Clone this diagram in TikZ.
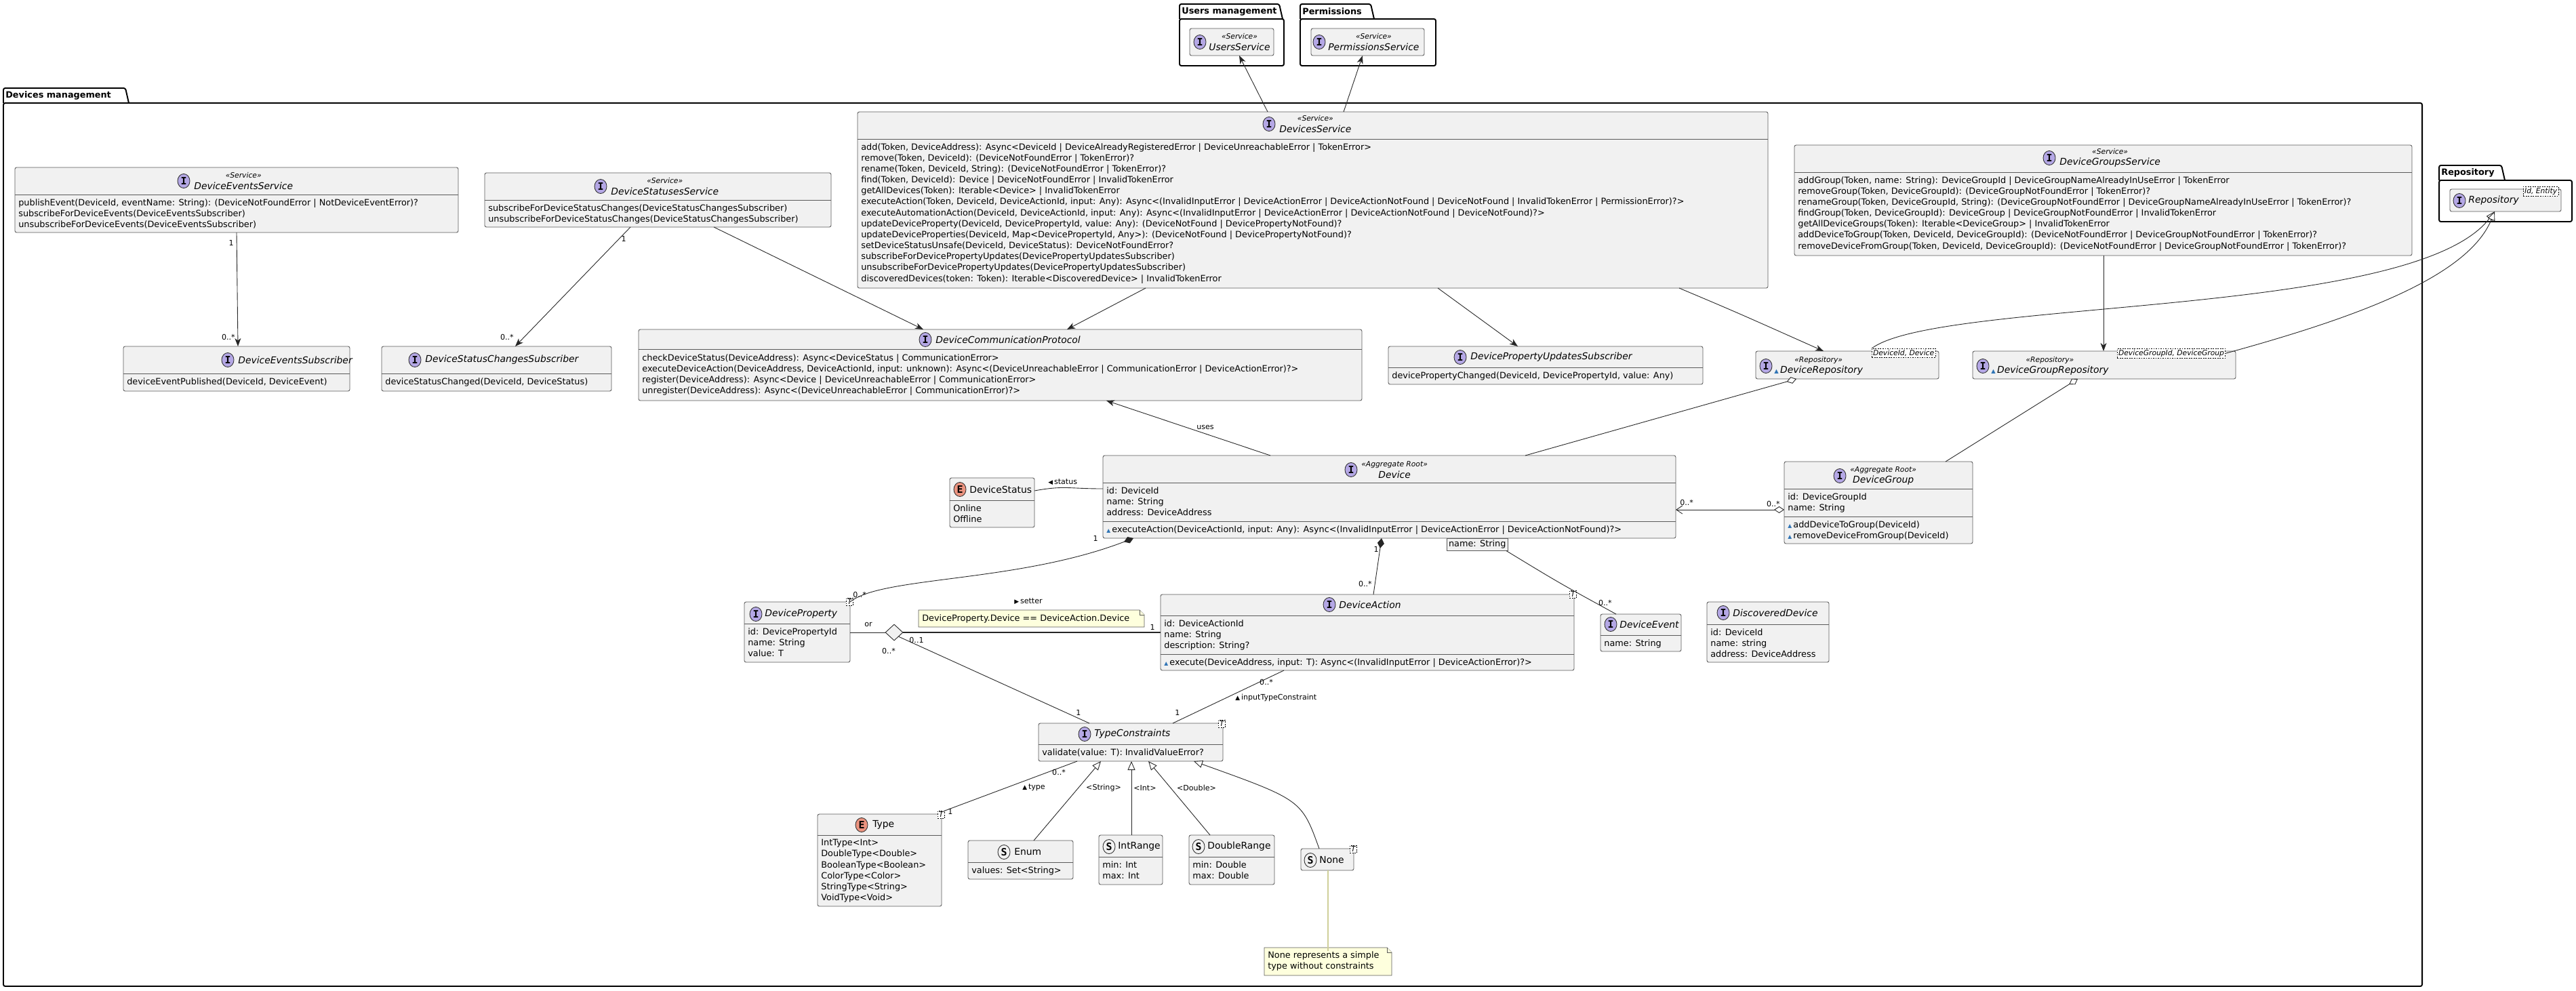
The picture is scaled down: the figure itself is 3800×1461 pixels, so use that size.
\documentclass[tikz,border=0pt]{standalone}
\usepackage{fontspec}
\setmainfont{DejaVu Sans}
\newfontfamily\monof{DejaVu Sans Mono}
\usetikzlibrary{arrows.meta,shapes.geometric}
\definecolor{boxfill}{HTML}{F1F1F1}
\definecolor{boxline}{HTML}{5A5A5A}
\definecolor{icoI}{HTML}{B4A7E5}
\definecolor{icoE}{HTML}{EB937F}
\definecolor{notefill}{HTML}{FEFFDD}
\definecolor{noteln}{HTML}{CFCF9A}
\definecolor{visblue}{HTML}{2F74B5}
\newcommand\fs{\fontsize{7.3}{9.2}\selectfont}
\newcommand\fsl{\fontsize{6.3}{7.5}\selectfont}
\newcommand\fst{\fontsize{6.1}{7}\selectfont\itshape}
\newcommand\fsn{\fontsize{7.9}{9.5}\selectfont}
\newcommand\vis{{\color{visblue}\scalebox{0.6}{▲}}\,}
\newcount\tcnt
\newcommand\stepid{\global\advance\tcnt by 1\relax}
\tikzset{
  x=0.02cm,y=-0.02cm,
  cls/.style={draw=boxline,fill=boxfill,line width=0.5pt,rounded corners=1.5pt,anchor=north west,inner sep=0,outer sep=0},
  clsl/.style={draw=boxline,line width=0.5pt},
  txt/.style={anchor=north west,inner sep=0,align=left,font=\fs},
  ttl/.style={anchor=west,inner sep=0,align=center,font=\fsn},
  lbl/.style={inner sep=0,font=\fsl},
  tpl/.style={draw=black,dashed,dash pattern=on 1pt off 1pt,fill=white,line width=0.4pt,inner sep=1pt,font=\fst,anchor=north west},
  pkg/.style={draw=black,line width=1.1pt,rounded corners=1.5pt},
  ln/.style={draw=black!85,line width=0.5pt},
  arr/.style={ln,-{Stealth[length=0.24cm,width=0.18cm,inset=0.07cm]}},
  gen/.style={ln,-{Triangle[open,length=0.26cm,width=0.22cm,fill=white]}},
  note/.style={draw=boxline,fill=notefill,line width=0.5pt},
}
\newcommand\ucls[5]{\node[cls,minimum width={(#4-#2)*0.02cm},minimum height={(#5-#3)*0.02cm}] (#1) at (#2,#3) {};}
\newcommand\usep[3]{\draw[clsl] (#1,#3) -- (#2,#3);}
\newcommand\uico[4]{\draw[line width=0.5pt,draw=black!80,fill=#4] (#1,#2) ellipse [x radius=0.18cm,y radius=0.21cm];
  \stepid\node[inner sep=0,font=\monof\bfseries\fontsize{8.5}{9}\selectfont] (t\the\tcnt) at (#1,#2) {#3};}
\newcommand\utxt[3]{\stepid\node[txt] (t\the\tcnt) at (#1,#2) {#3};}
\newcommand\uttl[3]{\stepid\node[ttl] (t\the\tcnt) at (#1,#2) {#3};}
\newcommand\ust[1]{{\fst «#1»}\\}
\begin{document}
\begin{tikzpicture}
\useasboundingbox (0,0) rectangle (3800,1461);
\fill[white] (0,0) rectangle (3800,1461);

% ---------- packages ----------
\draw[pkg] (5,152) -- (5,130) -- (185,130) -- (190,152);
\draw[pkg] (5,152) rectangle (3573,1455);
\node[anchor=west,inner sep=0,font=\fs\bfseries] (pkgdm) at (8,141) {Devices management};
\draw[pkg] (1740,28) -- (1740,6) -- (1887,6) -- (1892,28);
\draw[pkg] (1740,28) rectangle (1894,97);
\node[anchor=west,inner sep=0,font=\fs\bfseries] (pkgum) at (1743,17) {Users management};
\draw[pkg] (1918,28) -- (1918,6) -- (2022,6) -- (2027,28);
\draw[pkg] (1918,28) rectangle (2118,97);
\node[anchor=west,inner sep=0,font=\fs\bfseries] (pkgpm) at (1921,17) {Permissions};
\draw[pkg] (3598,266) -- (3598,244) -- (3690,244) -- (3695,266);
\draw[pkg] (3598,266) rectangle (3794,327);
\node[anchor=west,inner sep=0,font=\fs\bfseries] (pkgrp) at (3601,255) {Repository};

% ---------- top services ----------
\ucls{usersvc}{1755}{42}{1879}{82}
\uico{1770}{62}{I}{icoI}
\uttl{1783}{62}{\ust{Service}\itshape UsersService}
\ucls{permsvc}{1934}{42}{2101}{82}
\uico{1946}{62}{I}{icoI}
\uttl{1959}{62}{\ust{Service}\itshape PermissionsService}

\ucls{repo}{3614}{279}{3778}{312}
\uico{3628}{296}{I}{icoI}
\uttl{3641}{296}{\itshape Repository}
\node[tpl] (tplrepo) at (3722,275) {Id, Entity};

% ---------- services ----------
\ucls{evsvc}{22}{247}{676}{343}\usep{22}{676}{287}
\uico{271}{267}{I}{icoI}
\uttl{286}{267}{\ust{Service}\itshape DeviceEventsService}
\utxt{27}{293}{publishEvent(DeviceId, eventName: String): (DeviceNotFoundError | NotDeviceEventError)?\\subscribeForDeviceEvents(DeviceEventsSubscriber)\\unsubscribeForDeviceEvents(DeviceEventsSubscriber)}

\ucls{stsvc}{715}{255}{1226}{335}\usep{715}{1226}{295}
\uico{886}{275}{I}{icoI}
\uttl{901}{275}{\ust{Service}\itshape DeviceStatusesService}
\utxt{720}{301}{subscribeForDeviceStatusChanges(DeviceStatusChangesSubscriber)\\unsubscribeForDeviceStatusChanges(DeviceStatusChangesSubscriber)}

\ucls{devsvc}{1265}{165}{2608}{425}\usep{1265}{2608}{205}
\uico{1872}{183}{I}{icoI}
\uttl{1887}{183}{\ust{Service}\itshape DevicesService}
\utxt{1270}{211}{add(Token, DeviceAddress): Async<DeviceId | DeviceAlreadyRegisteredError | DeviceUnreachableError | TokenError>\\
remove(Token, DeviceId): (DeviceNotFoundError | TokenError)?\\
rename(Token, DeviceId, String): (DeviceNotFoundError | TokenError)?\\
find(Token, DeviceId): Device | DeviceNotFoundError | InvalidTokenError\\
getAllDevices(Token): Iterable<Device> | InvalidTokenError\\
executeAction(Token, DeviceId, DeviceActionId, input: Any): Async<(InvalidInputError | DeviceActionError | DeviceActionNotFound | DeviceNotFound | InvalidTokenError | PermissionError)?>\\
executeAutomationAction(DeviceId, DeviceActionId, input: Any): Async<(InvalidInputError | DeviceActionError | DeviceActionNotFound | DeviceNotFound)?>\\
updateDeviceProperty(DeviceId, DevicePropertyId, value: Any): (DeviceNotFound | DevicePropertyNotFound)?\\
updateDeviceProperties(DeviceId, Map<DevicePropertyId, Any>): (DeviceNotFound | DevicePropertyNotFound)?\\
setDeviceStatusUnsafe(DeviceId, DeviceStatus): DeviceNotFoundError?\\
subscribeForDevicePropertyUpdates(DevicePropertyUpdatesSubscriber)\\
unsubscribeForDevicePropertyUpdates(DevicePropertyUpdatesSubscriber)\\
discoveredDevices(token: Token): Iterable<DiscoveredDevice> | InvalidTokenError}

\ucls{grpsvc}{2647}{214}{3558}{377}\usep{2647}{3558}{254}
\uico{3023}{233}{I}{icoI}
\uttl{3038}{233}{\ust{Service}\itshape DeviceGroupsService}
\utxt{2652}{260}{addGroup(Token, name: String): DeviceGroupId | DeviceGroupNameAlreadyInUseError | TokenError\\
removeGroup(Token, DeviceGroupId): (DeviceGroupNotFoundError | TokenError)?\\
renameGroup(Token, DeviceGroupId, String): (DeviceGroupNotFoundError | DeviceGroupNameAlreadyInUseError | TokenError)?\\
findGroup(Token, DeviceGroupId): DeviceGroup | DeviceGroupNotFoundError | InvalidTokenError\\
getAllDeviceGroups(Token): Iterable<DeviceGroup> | InvalidTokenError\\
addDeviceToGroup(Token, DeviceId, DeviceGroupId): (DeviceNotFoundError | DeviceGroupNotFoundError | TokenError)?\\
removeDeviceFromGroup(Token, DeviceId, DeviceGroupId): (DeviceNotFoundError | DeviceGroupNotFoundError | TokenError)?}

% ---------- second row ----------
\ucls{evsub}{182}{511}{516}{577}\usep{182}{516}{551}
\uico{336}{531}{I}{icoI}
\uttl{351}{531}{\itshape DeviceEventsSubscriber}
\utxt{187}{557}{deviceEventPublished(DeviceId, DeviceEvent)}

\ucls{stsub}{563}{511}{902}{577}\usep{563}{902}{551}
\uico{612}{531}{I}{icoI}
\uttl{627}{531}{\itshape DeviceStatusChangesSubscriber}
\utxt{568}{557}{deviceStatusChanged(DeviceId, DeviceStatus)}

\ucls{dcp}{942}{486}{2009}{591}\usep{942}{2009}{515}
\uico{1365}{501}{I}{icoI}
\uttl{1380}{501}{\itshape DeviceCommunicationProtocol}
\utxt{947}{522}{checkDeviceStatus(DeviceAddress): Async<DeviceStatus | CommunicationError>\\
executeDeviceAction(DeviceAddress, DeviceActionId, input: unknown): Async<(DeviceUnreachableError | CommunicationError | DeviceActionError)?>\\
register(DeviceAddress): Async<Device | DeviceUnreachableError | CommunicationError>\\
unregister(DeviceAddress): Async<(DeviceUnreachableError | CommunicationError)?>}

\ucls{dpus}{2048}{511}{2512}{567}\usep{2048}{2512}{542}
\uico{2154}{527}{I}{icoI}
\uttl{2169}{527}{\itshape DevicePropertyUpdatesSubscriber}
\utxt{2053}{548}{devicePropertyChanged(DeviceId, DevicePropertyId, value: Any)}

\ucls{drepo}{2590}{518}{2860}{559}
\uico{2605}{540}{I}{icoI}
\uttl{2617}{540}{\ust{Repository}\vis\itshape DeviceRepository}
\node[tpl] (tpldr) at (2761,514) {DeviceId, Device};

\ucls{dgrepo}{2910}{518}{3298}{559}
\uico{2925}{540}{I}{icoI}
\uttl{2937}{540}{\ust{Repository}\vis\itshape DeviceGroupRepository}
\node[tpl] (tpldg) at (3123,514) {DeviceGroupId, DeviceGroup};

% ---------- Device row ----------
\ucls{device}{1627}{672}{2472}{794}\usep{1627}{2472}{712}\usep{1627}{2472}{769}
\uico{1993}{693}{I}{icoI}
\uttl{2008}{693}{\ust{Aggregate Root}\itshape Device}
\utxt{1632}{718}{id: DeviceId\\name: String\\address: DeviceAddress}
\utxt{1632}{775}{\vis executeAction(DeviceActionId, input: Any): Async<(InvalidInputError | DeviceActionError | DeviceActionNotFound)?>}
\node[draw=boxline,fill=boxfill,line width=0.5pt,inner sep=1.5pt,font=\fs,anchor=north west] (ntag) at (2134,794) {name: String};

\ucls{dstatus}{1401}{705}{1526}{778}\usep{1401}{1526}{738}
\uico{1416}{722}{E}{icoE}
\uttl{1430}{722}{DeviceStatus}
\utxt{1406}{744}{Online\\Offline}

\ucls{dgroup}{2632}{681}{2910}{802}\usep{2632}{2910}{721}\usep{2632}{2910}{762}
\uico{2714}{702}{I}{icoI}
\uttl{2729}{702}{\ust{Aggregate Root}\itshape DeviceGroup}
\utxt{2637}{727}{id: DeviceGroupId\\name: String}
\utxt{2637}{768}{\vis addDeviceToGroup(DeviceId)\\\vis removeDeviceFromGroup(DeviceId)}

\ucls{ddev}{2518}{888}{2698}{977}\usep{2518}{2698}{921}
\uico{2542}{904}{I}{icoI}
\uttl{2556}{904}{\itshape DiscoveredDevice}
\utxt{2523}{927}{id: DeviceId\\name: string\\address: DeviceAddress}

\ucls{dprop}{1098}{888}{1254}{977}\usep{1098}{1254}{920}
\uico{1115}{906}{I}{icoI}
\uttl{1128}{906}{\itshape DeviceProperty}
\utxt{1103}{926}{id: DevicePropertyId\\name: String\\value: T}
\node[tpl] (tplp) at (1248,882) {T};

\ucls{daction}{1712}{877}{2322}{989}\usep{1712}{2322}{908}\usep{1712}{2322}{965}
\uico{1961}{892}{I}{icoI}
\uttl{1975}{892}{\itshape DeviceAction}
\utxt{1717}{914}{id: DeviceActionId\\name: String\\description: String?}
\utxt{1717}{971}{\vis execute(DeviceAddress, input: T): Async<(InvalidInputError | DeviceActionError)?>}
\node[tpl] (tpla) at (2315,871) {T};

\ucls{devent}{2361}{906}{2480}{961}\usep{2361}{2480}{937}
\uico{2376}{921}{I}{icoI}
\uttl{2389}{921}{\itshape DeviceEvent}
\utxt{2366}{943}{name: String}

\draw[note] (1355,900) -- (1681,900) -- (1688,907) -- (1688,925) -- (1355,925) -- cycle;
\draw[note] (1681,900) -- (1681,907) -- (1688,907);
\node[anchor=west,inner sep=0,font=\fs] (note1) at (1360,913) {DeviceProperty.Device == DeviceAction.Device};

\node[diamond,draw=black!85,fill=boxfill,line width=0.5pt,minimum width=0.52cm,minimum height=0.48cm,inner sep=0] (orD) at (1319,933) {};

% ---------- type constraints ----------
\ucls{tc}{1532}{1067}{1804}{1123}\usep{1532}{1804}{1098}
\uico{1600}{1083}{I}{icoI}
\uttl{1614}{1083}{\itshape TypeConstraints}
\utxt{1537}{1104}{validate(value: T): InvalidValueError?}
\node[tpl] (tpltc) at (1797,1062) {T};

\ucls{typ}{1206}{1201}{1389}{1337}\usep{1206}{1389}{1232}
\uico{1271}{1217}{E}{icoE}
\uttl{1287}{1217}{Type}
\utxt{1211}{1238}{IntType<Int>\\DoubleType<Double>\\BooleanType<Boolean>\\ColorType<Color>\\StringType<String>\\VoidType<Void>}
\node[tpl] (tplt) at (1383,1196) {T};

\ucls{enm}{1428}{1240}{1583}{1297}\usep{1428}{1583}{1272}
\uico{1481}{1257}{S}{boxfill}
\uttl{1496}{1257}{Enum}
\utxt{1433}{1278}{values: Set<String>}

\ucls{irange}{1621}{1232}{1715}{1305}\usep{1621}{1715}{1264}
\uico{1636}{1249}{S}{boxfill}
\uttl{1649}{1249}{IntRange}
\utxt{1626}{1270}{min: Int\\max: Int}

\ucls{drange}{1754}{1232}{1880}{1305}\usep{1754}{1880}{1264}
\uico{1768}{1249}{S}{boxfill}
\uttl{1781}{1249}{DoubleRange}
\utxt{1759}{1270}{min: Double\\max: Double}

\ucls{nonec}{1919}{1252}{1997}{1284}
\uico{1933}{1269}{S}{boxfill}
\uttl{1946}{1269}{None}
\node[tpl] (tpln) at (1991,1247) {T};

\draw[note] (1865,1398) -- (2046,1398) -- (2053,1405) -- (2053,1439) -- (1865,1439) -- cycle;
\draw[note] (2046,1398) -- (2046,1405) -- (2053,1405);
\node[anchor=north west,inner sep=0,align=left,font=\fs] (note2) at (1870,1403) {None represents a simple\\type without constraints};

% ---------- connectors ----------
\draw[arr] (devsvc.north -| 1870,0) -- (usersvc.south -| 1828,0);
\draw[arr] (devsvc.north -| 1982,0) -- (permsvc.south -| 2010,0);

\draw[arr] (evsvc.south -| 349,0) -- (evsub.north -| 351,0);
\node[lbl,anchor=east] (m1) at (345,358) {1};
\node[lbl,anchor=east] (m2) at (347,497) {0..*};
\draw[arr] (stsvc.south -| 930,0) -- (stsub.north -| 760,0);
\node[lbl,anchor=east] (m3) at (924,352) {1};
\node[lbl,anchor=east] (m4) at (758,497) {0..*};
\draw[arr] (stsvc.south -| 1053,0) -- (dcp.north -| 1362,0);
\draw[arr] (devsvc.south -| 1690,0) -- (dcp.north -| 1574,0);
\draw[arr] (devsvc.south -| 2121,0) -- (dpus.north -| 2239,0);
\draw[arr] (devsvc.south -| 2477,0) .. controls (2560,460) .. (drepo.north -| 2690,0);
\draw[arr] (grpsvc.south -| 3103,0) -- (dgrepo.north -| 3103,0);

\draw[gen] (tpldr.north west) .. controls (2860,440) and (3560,470) .. (repo.south -| 3680,0);
\draw[gen] (tpldg.east) .. controls (3470,470) and (3640,410) .. (repo.south -| 3680,0);

\draw[ln,{Diamond[open,length=0.3cm,width=0.2cm,fill=white]}-] (drepo.south -| 2650,0) -- (device.north -| 2250,0);
\draw[ln,{Diamond[open,length=0.3cm,width=0.2cm,fill=white]}-] (dgrepo.south -| 3065,0) -- (dgroup.north -| 2870,0);

\draw[arr] (device.north -| 1874,0) -- (dcp.south -| 1632,0);
\node[lbl] (uses) at (1778,630) {uses};
\draw[ln] (device.west |- 0,721) .. controls (1575,721) and (1570,716) .. (dstatus.east |- 0,724);
\node[lbl,anchor=west] (st) at (1546,711) {\scalebox{0.8}{◀}\,status};

\draw[ln,{Diamond[open,length=0.3cm,width=0.2cm,fill=white]}-{Straight Barb[length=0.18cm,width=0.24cm]}] (dgroup.west |- 0,752) -- (device.east |- 0,752);
\node[lbl,anchor=west] (m5) at (2478,741) {0..*};
\node[lbl,anchor=east] (m6) at (2626,743) {0..*};

\draw[ln,{Diamond[length=0.3cm,width=0.2cm]}-] (device.south -| 1672,0) .. controls (1500,860) and (1300,850) .. (dprop.north east);
\node[lbl,anchor=east] (m7) at (1620,794) {1};
\node[lbl,anchor=west] (m8) at (1258,877) {0..*};
\draw[ln,{Diamond[length=0.3cm,width=0.2cm]}-] (device.south -| 2038,0) -- (daction.north -| 2026,0);
\node[lbl,anchor=east] (m9) at (2034,810) {1};
\node[lbl,anchor=east] (m10) at (2024,861) {0..*};
\draw[ln] (ntag.south -| 2222,0) .. controls (2300,860) .. (devent.north -| 2384,0);
\node[lbl,anchor=east] (m11) at (2378,889) {0..*};

\draw[ln] (dprop.east |- 0,933) -- (orD.west);
\node[lbl] (or) at (1281,921) {or};
\draw[ln,line width=1pt] (orD.east) -- (daction.west |- 0,933);
\node[lbl] (m12) at (1700,925) {1};
\node[lbl] (m13) at (1352,944) {0..1};
\node[lbl,anchor=west] (setter) at (1496,887) {\scalebox{0.8}{▶}\,setter};
\draw[ln] (orD.south east) -- (tc.north -| 1607,0);
\node[lbl] (m14) at (1311,960) {0..*};
\node[lbl] (m15) at (1591,1051) {1};

\draw[ln] (daction.south -| 1894,0) -- (tc.north -| 1730,0);
\node[lbl] (m16) at (1868,1006) {0..*};
\node[lbl] (m17) at (1737,1051) {1};
\node[lbl,anchor=west] (itc) at (1822,1029) {\scalebox{0.8}{▲}\,inputTypeConstraint};

\draw[ln] (tc.south -| 1589,0) -- (tplt.north east);
\node[lbl] (m18) at (1562,1139) {0..*};
\node[lbl] (m19) at (1402,1197) {1};
\node[lbl,anchor=west] (tyl) at (1508,1162) {\scalebox{0.8}{▲}\,type};

\draw[gen] (enm.north -| 1525,0) -- (tc.south -| 1624,0);
\node[lbl] (g1) at (1628,1162) {<String>};
\draw[gen] (irange.north -| 1669,0) -- (tc.south -| 1669,0);
\node[lbl] (g2) at (1689,1162) {<Int>};
\draw[gen] (drange.north -| 1785,0) -- (tc.south -| 1694,0);
\node[lbl] (g3) at (1765,1162) {<Double>};
\draw[gen] (nonec.north -| 1946,0) .. controls (1920,1180) .. (tc.south -| 1761,0);
\draw[draw=noteln,line width=0.6pt] (nonec.south -| 1959,0) -- (note2.north -| 1959,0);
\end{tikzpicture}
\end{document}
